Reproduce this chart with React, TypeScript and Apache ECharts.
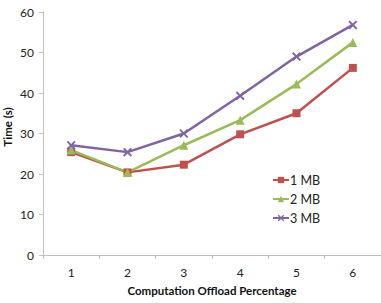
import React, { useEffect, useRef } from "react";
import * as echarts from "echarts";

const categories = ["1", "2", "3", "4", "5", "6"];
const seriesNames = ["1 MB", "2 MB", "3 MB"];
const mb1 = [25.4, 20.4, 22.3, 29.8, 35.0, 46.2];
const mb2 = [25.9, 20.4, 27.1, 33.3, 42.2, 52.5];
const mb3 = [27.1, 25.4, 30.0, 39.3, 49.0, 56.8];
const colors = ["#C0504D", "#9BBB59", "#8064A2"];
const symbols = [
  "rect",
  "triangle",
  "path://M0,1.5 L1.5,0 L5,3.5 L8.5,0 L10,1.5 L6.5,5 L10,8.5 L8.5,10 L5,6.5 L1.5,10 L0,8.5 L3.5,5 Z",
];
const symbolSizes = [8, 9, 9];
const yTitle = "Time (s)";
const xTitle = "Computation Offload Percentage";

export default function App() {
  const ref = useRef<HTMLDivElement>(null);
  useEffect(() => {
    document.body.style.margin = "0";
    const chart = echarts.init(ref.current!, null, { renderer: "svg" });
    const font = "Lato";
    const data = [mb1, mb2, mb3];
    chart.setOption({
      animation: false,
      textStyle: { fontFamily: font },
      grid: { left: 43, right: -4, top: 12, bottom: 48 },
      legend: {
        orient: "vertical",
        left: 267,
        top: 168,
        itemWidth: 16,
        itemHeight: 8,
        itemGap: 5,
        textStyle: { fontFamily: font, fontSize: 12.5, color: "#222", padding: [0, 0, 0, -4], lineHeight: 14 },
        data: seriesNames,
      },
      graphic: [
        {
          type: "text",
          x: 7,
          y: 127,
          rotation: Math.PI / 2,
          style: {
            text: yTitle,
            fontFamily: font,
            fontSize: 11.5,
            fontWeight: "bold",
            fill: "#111",
            align: "center",
            verticalAlign: "middle",
          },
        },
      ],
      xAxis: {
        type: "category",
        data: categories,
        boundaryGap: true,
        axisLine: { lineStyle: { color: "#BFBFBF", width: 1 } },
        axisTick: { show: true, length: 4, lineStyle: { color: "#BFBFBF" } },
        axisLabel: { fontFamily: font, fontSize: 12, color: "#222", margin: 11 },
        name: xTitle,
        nameLocation: "middle",
        nameGap: 29,
        nameTextStyle: { fontFamily: font, fontSize: 11.5, fontWeight: "bold", color: "#111" },
      },
      yAxis: {
        type: "value",
        min: 0,
        max: 60,
        interval: 10,
        splitLine: { show: false },
        axisLine: { show: true, lineStyle: { color: "#BFBFBF", width: 1 } },
        axisTick: { show: true, length: 4, lineStyle: { color: "#BFBFBF" } },
        axisLabel: { fontFamily: font, fontSize: 12, color: "#222", margin: 9 },
      },
      series: seriesNames.map((name, i) => ({
        name,
        type: "line",
        data: data[i],
        symbol: symbols[i],
        symbolSize: symbolSizes[i],
        showSymbol: true,
        itemStyle: { color: colors[i] },
        lineStyle: { color: colors[i], width: 2.5 },
      })),
    });
    return () => chart.dispose();
  }, []);
  return <div ref={ref} style={{ width: 381, height: 303 }} />;
}
